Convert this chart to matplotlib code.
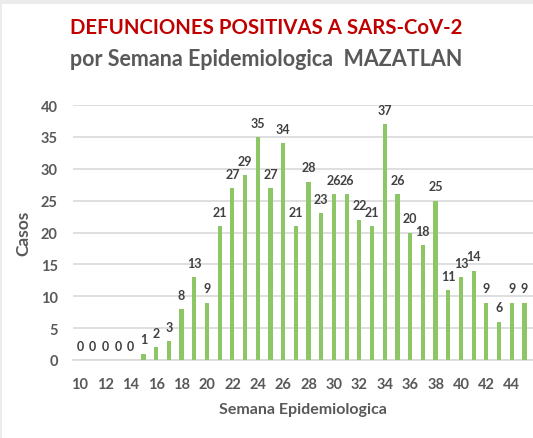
import matplotlib
matplotlib.use('Agg')
import matplotlib.pyplot as plt
from matplotlib.patches import Rectangle

plt.rcParams['font.family'] = ['Lato', 'DejaVu Sans']

semanas = list(range(10, 46))
casos = [0, 0, 0, 0, 0, 1, 2, 3, 8, 13, 9, 21, 27, 29, 35, 27, 34, 21, 28, 23,
         26, 26, 22, 21, 37, 26, 20, 18, 25, 11, 13, 14, 9, 6, 9, 9]
ticks_x = list(range(10, 46, 2))
ticks_y = [0, 5, 10, 15, 20, 25, 30, 35, 40]

verde = '#8cc665'
gris = '#595959'

fig = plt.figure(figsize=(5.33, 4.39), dpi=100)
fig.patch.set_facecolor('#ebebeb')
# area blanca del grafico, detras de los ejes
fondo = Rectangle((2 / 533, 0), 1, 1 - 5 / 439, transform=fig.transFigure,
                  facecolor='white', edgecolor='none', zorder=-5)
fig.add_artist(fondo)

ax = fig.add_axes([73 / 533, 78 / 439, 1 - 73 / 533, 255 / 439])
ax.set_facecolor('none')
ax.bar(semanas, casos, width=0.33, color=verde, zorder=3)
for s, c in zip(semanas, casos):
    ax.text(s, c + 1.3, str(c), ha='center', va='bottom', fontsize=9,
            fontweight='bold', color='#404040', clip_on=False)

ax.set_xlim(9.45, 45.67)
ax.set_ylim(0, 40)
ax.set_xticks(ticks_x)
ax.set_yticks(ticks_y)
ax.tick_params(length=0, labelsize=10.5, labelcolor=gris, pad=12)
ax.tick_params(axis='y', pad=11)
for lbl in ax.get_xticklabels() + ax.get_yticklabels():
    lbl.set_fontweight('bold')
ax.grid(axis='y', color='#d9d9d9', linewidth=1.2, zorder=0)
for sp in ['top', 'right', 'left']:
    ax.spines[sp].set_visible(False)
ax.spines['bottom'].set_color('#d9d9d9')
ax.spines['bottom'].set_linewidth(1.2)

ax.set_xlabel('Semana Epidemiologica', fontsize=11.5, fontweight='bold', color=gris, labelpad=8)
ax.set_ylabel('Casos', fontsize=12.5, fontweight='bold', color=gris, labelpad=7)

fig.text(0.5, 1 - 28 / 439, 'DEFUNCIONES POSITIVAS A SARS-CoV-2', ha='center', va='center',
         fontsize=14.7, fontweight='bold', color='#c00000')
fig.text(0.5, 1 - 60 / 439, 'por Semana Epidemiologica  MAZATLAN', ha='center', va='center',
         fontsize=15.5, fontweight='bold', color=gris)

fig.savefig('out.png', dpi=100, facecolor=fig.get_facecolor())
